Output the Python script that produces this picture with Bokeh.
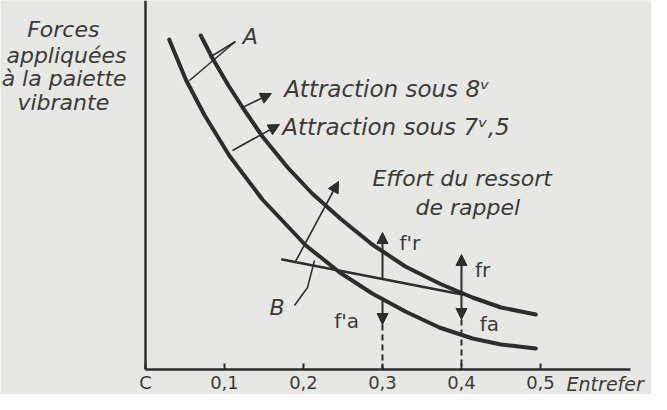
from bokeh.plotting import figure
from bokeh.models import Range1d, FixedTicker, Arrow, NormalHead, Label
from bokeh.embed import file_html
from bokeh.resources import INLINE

# ---- data (air gap "Entrefer" vs force, arbitrary units) ----
gap_8v = [0.070, 0.085, 0.105, 0.123, 0.148, 0.180, 0.211, 0.248, 0.287, 0.329, 0.372, 0.414, 0.450, 0.494]
force_8v = [334, 311, 284, 262, 233, 202, 176, 150, 125, 103, 86, 72, 62, 55]

gap_75v = [0.030, 0.051, 0.075, 0.106, 0.148, 0.203, 0.246, 0.287, 0.329, 0.372, 0.414, 0.450, 0.494]
force_75v = [330, 290, 254, 214, 170, 124, 97, 76, 58, 42, 31, 25, 21]

spring_gap = [0.173, 0.401]
spring_force = [110, 75]

tick_values = [0, 0.1, 0.2, 0.3, 0.4, 0.5]
tick_labels = ["C", "0,1", "0,2", "0,3", "0,4", "0,5"]

# force arrows: (x, y_start, y_end)
up_arrows = [(0.3, 91, 137), (0.4, 75, 115)]        # f'r, fr
down_arrows = [(0.3, 72, 45), (0.4, 75, 50)]        # f'a, fa
dash_lines = [(0.3, 45), (0.4, 50)]

INK = "#2d2d2d"
TXT = "#3a3a3a"
PAPER = "#e7e7e4"
FONT = "DejaVu Sans"

p = figure(width=651, height=394, x_range=Range1d(-0.1835, 0.6405), y_range=Range1d(-25, 369),
           output_backend="svg", toolbar_location=None,
           min_border=0, min_border_left=0, min_border_right=0, min_border_top=0, min_border_bottom=0,
           background_fill_color=PAPER, border_fill_color=PAPER)
p.grid.visible = False
p.outline_line_color = None

# axes, placed at the origin inside the frame
p.xaxis.fixed_location = 0
p.xaxis.bounds = (0, 0.614)
p.xaxis.ticker = FixedTicker(ticks=tick_values)
p.xaxis.major_label_overrides = {v: l for v, l in zip(tick_values, tick_labels)}
p.xaxis.major_tick_in = 6
p.xaxis.major_tick_out = 0
p.xaxis.minor_tick_line_color = None
p.xaxis.axis_line_width = 2.5
p.xaxis.axis_line_color = INK
p.xaxis.major_tick_line_color = INK
p.xaxis.major_tick_line_width = 2
p.xaxis.major_label_standoff = 2
p.xaxis.major_label_text_font = FONT
p.xaxis.major_label_text_font_size = "18px"
p.xaxis.major_label_text_color = TXT

p.yaxis.fixed_location = 0
p.yaxis.bounds = (0, 369)
p.yaxis.ticker = FixedTicker(ticks=[])
p.yaxis.minor_tick_line_color = None
p.yaxis.major_tick_line_color = None
p.yaxis.axis_line_width = 2.5
p.yaxis.axis_line_color = INK

# curves
p.line(gap_8v, force_8v, line_width=4, color=INK, line_cap="round", line_join="round")
p.line(gap_75v, force_75v, line_width=4, color=INK, line_cap="round", line_join="round")
p.line(spring_gap, spring_force, line_width=2.5, color=INK, line_cap="round")

# dashed projection lines
for x, y in dash_lines:
    p.line([x, x], [y, 0], line_width=2, color=INK, line_dash="6 4")


def arrow(x0, y0, x1, y1, w=1.6, size=11):
    p.add_layout(Arrow(end=NormalHead(size=size, fill_color=INK, line_color=INK, line_width=1),
                       x_start=x0, y_start=y0, x_end=x1, y_end=y1,
                       line_color=INK, line_width=w))


for x, y0, y1 in up_arrows + down_arrows:
    arrow(x, y0, x, y1, w=2)

# pointer arrows for the labels
arrow(0.1228, 262, 0.1595, 276)     # Attraction sous 8v
arrow(0.1101, 219, 0.1696, 245)     # Attraction sous 7v5
arrow(0.1899, 108, 0.2443, 188)     # from B region upward

# A leader (open wedge) and B hook
p.multi_line([[0.0557, 0.1139], [0.0810, 0.1139]], [[289, 328], [312, 328]], line_width=1.5, color=INK)
p.line([0.1886, 0.2051, 0.2139], [64, 82, 109], line_width=1.5, color=INK)


def label(x, y, text, size="23px", style="italic", align="left"):
    p.add_layout(Label(x=x, y=y, text=text, text_font=FONT, text_font_style=style,
                       text_font_size=size, text_color=TXT, text_align=align,
                       text_baseline="middle"))


label(0.1755, 281, "Attraction  sous 8ᵛ")
label(0.1730, 243, "Attraction sous 7ᵛ,5")
label(0.2873, 191, "Effort du ressort", size="22px")
label(0.3418, 162, "de rappel", size="22px")
label(0.1230, 333, "A", size="22px")
label(0.1570, 62, "B", size="22px")
label(0.3215, 127, "f'r", size="20px", style="normal")
label(0.4170, 100, "fr", size="20px", style="normal")
label(0.4230, 46, "fa", size="20px", style="normal")
label(0.2390, 49, "f'a", size="20px", style="normal")
label(0.5330, -14, "Entrefer", size="19px")

# y-axis title (left of the axis)
label(-0.1040, 340, "Forces", size="22px", align="center")
label(-0.1000, 314, "appliquées", size="22px", align="center")
label(-0.1030, 291, "à la paiette", size="22px", align="center")
label(-0.1040, 267, "vibrante", size="22px", align="center")

open("out.html", "w").write(file_html(p, INLINE))
